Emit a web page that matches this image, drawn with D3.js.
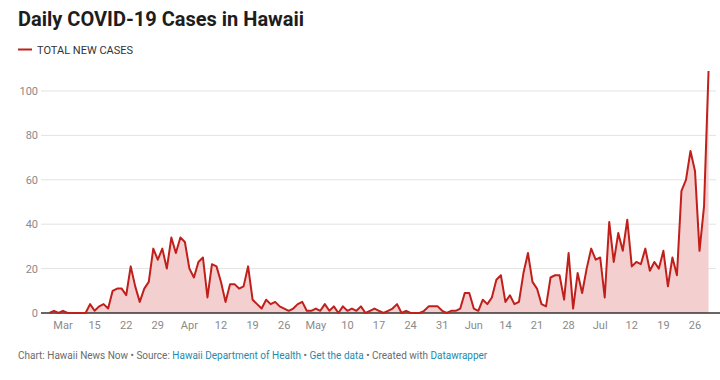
<!DOCTYPE html>
<html>
<head>
<meta charset="utf-8">
<script src="https://cdn.jsdelivr.net/npm/d3@7"></script>
<style>
  body { margin: 0; background: #fff; }
  svg { display: block; font-family: Roboto, "Noto Sans", sans-serif; }
</style>
</head>
<body>
<div id="app"></div>
<script>
const width = 720;
const height = 380;

const title = "Daily COVID-19 Cases in Hawaii";
const seriesName = "TOTAL NEW CASES";
const startDate = "2020-03-05";

// daily new cases, Mar 5 .. Jul 29
const marCases = [0, 1, 0, 1, 0, 0, 0, 0, 0, 4, 1, 3, 4, 2, 10, 11, 11, 8, 21, 12, 5, 11, 14, 29, 24, 29, 20];
const aprCases = [34, 27, 34, 32, 20, 16, 23, 25, 7, 22, 21, 14, 5, 13, 13, 11, 12, 21, 6, 4, 2, 6, 4, 5, 3, 2, 1, 2, 4, 5];
const mayCases = [1, 1, 2, 1, 4, 1, 3, 0, 3, 1, 2, 1, 3, 0, 1, 2, 1, 0, 1, 2, 4, 0, 1, 0, 0, 0, 1, 3, 3, 3, 1];
const junCases = [0, 1, 1, 2, 9, 9, 2, 1, 6, 4, 7, 15, 17, 5, 8, 4, 5, 18, 27, 14, 11, 4, 3, 16, 17, 17, 6, 27, 2, 18];
const julCases = [9, 20, 29, 24, 25, 7, 41, 23, 36, 28, 42, 21, 23, 22, 29, 19, 23, 20, 28, 12, 25, 17, 55, 60, 73, 64, 28, 48, 109];

const yTicks = [0, 20, 40, 60, 80, 100];
const xTickDates = ["2020-03-08", "2020-03-15", "2020-03-22", "2020-03-29", "2020-04-05", "2020-04-12",
  "2020-04-19", "2020-04-26", "2020-05-03", "2020-05-10", "2020-05-17", "2020-05-24", "2020-05-31",
  "2020-06-07", "2020-06-14", "2020-06-21", "2020-06-28", "2020-07-05", "2020-07-12", "2020-07-19", "2020-07-26"];
const xTickLabels = ["Mar", "15", "22", "29", "Apr", "12", "19", "26", "May", "10", "17", "24", "31",
  "Jun", "14", "21", "28", "Jul", "12", "19", "26"];

const red = "#c0201b";
const parseDate = d3.utcParse("%Y-%m-%d");

const cases = [...marCases, ...aprCases, ...mayCases, ...junCases, ...julCases];
const start = parseDate(startDate);
const data = cases.map((v, i) => ({ date: d3.utcDay.offset(start, i), value: v }));

document.getElementById("app").innerHTML = `<svg width="${width}" height="${height}"></svg>`;
const svg = d3.select("svg");

const x = d3
  .scaleUtc()
  .domain([parseDate("2020-03-08"), parseDate("2020-07-26")])
  .range([63, 695]);
const y = d3.scaleLinear().domain([0, 100]).range([313, 91]);

// title + legend
svg
  .append("text")
  .attr("x", 18)
  .attr("y", 26)
  .style("font-size", "20px")
  .style("font-weight", 700)
  .style("fill", "#1d1d1d")
  .text(title);

svg
  .append("line")
  .attr("x1", 18)
  .attr("x2", 32)
  .attr("y1", 49.5)
  .attr("y2", 49.5)
  .style("stroke", red)
  .style("stroke-width", 2);

svg
  .append("text")
  .attr("x", 37)
  .attr("y", 54)
  .style("font-size", "11px")
  .style("fill", "#333")
  .text(seriesName);

// y grid + labels
const yAxis = svg.append("g");
yAxis
  .selectAll("line")
  .data(yTicks.filter(d => d > 0))
  .enter()
  .append("line")
  .attr("x1", 41)
  .attr("x2", 716)
  .attr("y1", d => y(d))
  .attr("y2", d => y(d))
  .style("stroke", "#e3e3e3")
  .style("stroke-width", 1);

yAxis
  .selectAll("text")
  .data(yTicks)
  .enter()
  .append("text")
  .attr("x", 38)
  .attr("y", d => y(d) + 4)
  .attr("text-anchor", "end")
  .style("font-size", "11px")
  .style("fill", "#8a8a8a")
  .text(d => d);

// area + line
const area = d3
  .area()
  .x(d => x(d.date))
  .y0(y(0))
  .y1(d => y(d.value));

const line = d3
  .line()
  .x(d => x(d.date))
  .y(d => y(d.value));

svg
  .append("path")
  .datum(data)
  .attr("d", area)
  .style("fill", "#f3cfcf");

svg
  .append("line")
  .attr("x1", 41)
  .attr("x2", 720)
  .attr("y1", y(0))
  .attr("y2", y(0))
  .style("stroke", "#333")
  .style("stroke-width", 1.5);

svg
  .append("path")
  .datum(data)
  .attr("d", line)
  .style("fill", "none")
  .style("stroke", red)
  .style("stroke-width", 2)
  .style("stroke-linejoin", "round");

// x labels
svg
  .append("g")
  .selectAll("text")
  .data(xTickDates)
  .enter()
  .append("text")
  .attr("x", d => x(parseDate(d)))
  .attr("y", 329)
  .attr("text-anchor", "middle")
  .style("font-size", "11px")
  .style("fill", "#8a8a8a")
  .text((_, i) => xTickLabels[i]);

// footer
const link = "#1d8aae";
const footer = svg
  .append("text")
  .attr("x", 18)
  .attr("y", 359)
  .style("font-size", "10px")
  .style("fill", "#6b6b6b");
footer.append("tspan").text("Chart: Hawaii News Now • Source: ");
footer.append("tspan").style("fill", link).text("Hawaii Department of Health");
footer.append("tspan").text(" • ");
footer.append("tspan").style("fill", link).text("Get the data");
footer.append("tspan").text(" • Created with ");
footer.append("tspan").style("fill", link).text("Datawrapper");
</script>
</body>
</html>
